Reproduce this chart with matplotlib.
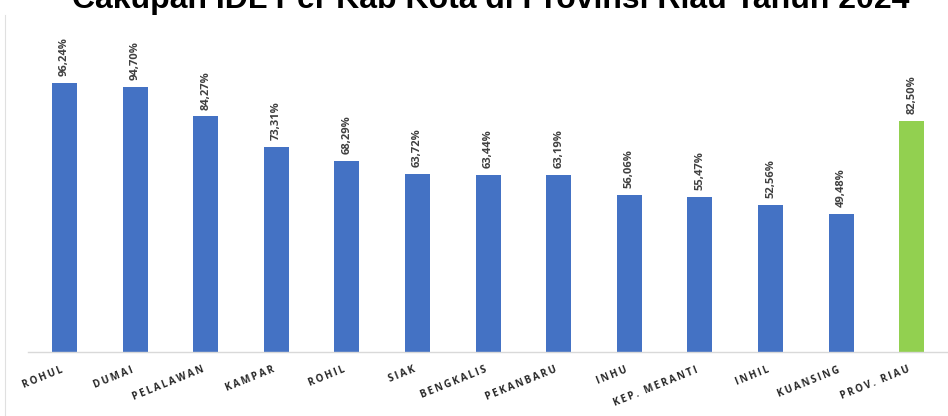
import matplotlib
matplotlib.use("Agg")
import matplotlib.pyplot as plt
from matplotlib.transforms import ScaledTranslation

# -----------------------------
# Data
# -----------------------------
regions = ["ROHUL", "DUMAI", "PELALAWAN", "KAMPAR", "ROHIL", "SIAK", "BENGKALIS",
           "PEKANBARU", "INHU", "KEP. MERANTI", "INHIL", "KUANSING", "PROV. RIAU"]
coverage = [96.24, 94.70, 84.27, 73.31, 68.29, 63.72, 63.44,
            63.19, 56.06, 55.47, 52.56, 49.48, 82.50]
bar_colors = ["#4472C4"] * 12 + ["#92D050"]

title = "Cakupan IDL Per Kab Kota di Provinsi Riau Tahun 2024"

# -----------------------------
# Figure
# -----------------------------
fig = plt.figure(figsize=(9.48, 4.16), dpi=100, facecolor="white")
ax = fig.add_axes([28 / 948, 64 / 416, 920 / 948, 279.5 / 416])

x = list(range(len(regions)))
bars = ax.bar(x, coverage, width=0.354, color=bar_colors)

ax.set_xlim(-0.517, -0.517 + 920 / 70.6)
ax.set_ylim(0, 100)

# value labels
for rect, val in zip(bars, coverage):
    ax.annotate(f"{val:.2f}%".replace(".", ","),
                xy=(rect.get_x() + rect.get_width() / 2, rect.get_height()),
                xytext=(0, 5), textcoords="offset points",
                rotation=90, ha="center", va="bottom",
                fontsize=8, fontweight="bold", color="#404040",
                family=["Open Sans", "DejaVu Sans"], annotation_clip=False)

# spaced tick labels
spaced = ["\u2009".join(name) for name in regions]
ax.set_xticks(x)
ax.set_xticklabels(spaced, rotation=22, ha="right", va="top",
                   rotation_mode="anchor", fontsize=7, fontweight="bold",
                   color="#262626", family=["Open Sans", "DejaVu Sans"])
ax.tick_params(axis="x", length=0, pad=9)
shift = ScaledTranslation(-3 / 72, 0, fig.dpi_scale_trans)
for lbl in ax.get_xticklabels():
    lbl.set_transform(lbl.get_transform() + shift)
ax.set_yticks([])

for side in ["top", "right", "left"]:
    ax.spines[side].set_visible(False)
ax.spines["bottom"].set_color("#D9D9D9")
ax.spines["bottom"].set_linewidth(1)

# thin chart border on the left
fig.add_artist(plt.Line2D([5 / 948, 5 / 948], [0, 1 - 15 / 416],
                          color="#E0E0E0", linewidth=0.8))

# title, cut off at the top like the source
fig.text(491 / 948, 1 - 8 / 416, title, ha="center", va="baseline",
         fontsize=23, fontweight="bold", color="black",
         family=["Liberation Sans", "DejaVu Sans"])

fig.savefig("out.png", dpi=100)
